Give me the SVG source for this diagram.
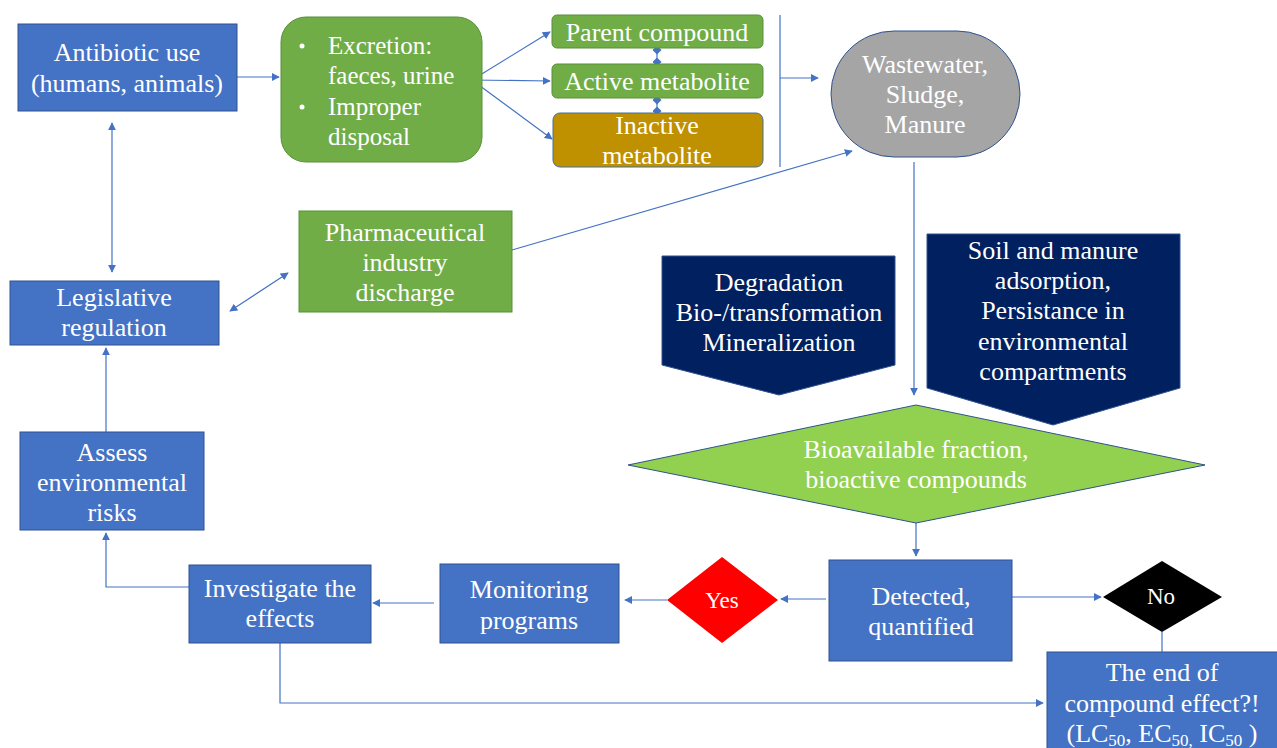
<svg xmlns="http://www.w3.org/2000/svg" width="1277" height="748" viewBox="0 0 1277 748">
<defs>
<style>
.t{font-family:"Liberation Serif","Times New Roman",serif;font-size:26px;fill:#ffffff;text-anchor:middle}
.tl{font-family:"Liberation Serif","Times New Roman",serif;font-size:25px;fill:#ffffff}
.ts{font-family:"Liberation Serif","Times New Roman",serif;font-size:23px;fill:#ffffff;text-anchor:middle}
.blue{fill:#4472C4;stroke:#2F528F;stroke-width:1}
.green{fill:#70AD47;stroke:#5B8F3A;stroke-width:1}
.navy{fill:#002060;stroke:#2F528F;stroke-width:1}
.c{fill:none;stroke:#4472C4;stroke-width:1.2}
</style>
<marker id="ah" viewBox="0 0 10 10" refX="9" refY="5" markerWidth="8" markerHeight="8" orient="auto-start-reverse" markerUnits="userSpaceOnUse">
<path d="M0,0 L10,5 L0,10 z" fill="#4472C4"/>
</marker>
<marker id="dm" viewBox="0 0 10 10" refX="5" refY="5" markerWidth="9" markerHeight="9" orient="auto" markerUnits="userSpaceOnUse">
<path d="M0,5 L5,0 L10,5 L5,10 z" fill="#4472C4"/>
</marker>
</defs>

<g id="connectors">
<path class="c" d="M237,77 H279" marker-end="url(#ah)"/>
<path class="c" d="M472,80 L550,32" marker-end="url(#ah)"/>
<path class="c" d="M472,80 L550,81" marker-end="url(#ah)"/>
<path class="c" d="M472,80 L552,139" marker-end="url(#ah)"/>
<path class="c" d="M657,50 V62" marker-start="url(#dm)" marker-end="url(#dm)"/>
<path class="c" d="M657,100 V111" marker-start="url(#dm)" marker-end="url(#dm)"/>
<path class="c" d="M780,15 V167"/>
<path class="c" d="M780,78 H818" marker-end="url(#ah)"/>
<path class="c" d="M512,250 L852,151" marker-end="url(#ah)"/>
<path class="c" d="M914,162 V395" marker-end="url(#ah)"/>
<path class="c" d="M916,523 V556" marker-end="url(#ah)"/>
<path class="c" d="M826,599 H781" marker-end="url(#ah)"/>
<path class="c" d="M667,600 H625" marker-end="url(#ah)"/>
<path class="c" d="M434,603 H373" marker-end="url(#ah)"/>
<path class="c" d="M189,587 H106 V533" marker-end="url(#ah)"/>
<path class="c" d="M106,432 V348" marker-end="url(#ah)"/>
<path class="c" d="M112,123 V272" marker-start="url(#ah)" marker-end="url(#ah)"/>
<path class="c" d="M230,311 L288,273" marker-start="url(#ah)" marker-end="url(#ah)"/>
<path class="c" d="M1012,597 H1101" marker-end="url(#ah)"/>
<path class="c" d="M1162,632 V652"/>
<path class="c" d="M280,643 V703 H1043" marker-end="url(#ah)"/>
</g>

<g id="antibiotic">
<rect class="blue" x="18" y="24" width="219" height="87"/>
<text class="t" x="127" y="61">Antibiotic use</text>
<text class="t" x="127" y="92">(humans, animals)</text>
</g>

<g id="excretion">
<rect class="green" x="281" y="17" width="201" height="145" rx="25"/>
<circle cx="302" cy="46" r="2.5" fill="#fff"/>
<circle cx="302" cy="107" r="2.5" fill="#fff"/>
<text class="tl" x="328" y="54">Excretion:</text>
<text class="tl" x="328" y="84">faeces, urine</text>
<text class="tl" x="328" y="115">Improper</text>
<text class="tl" x="328" y="145">disposal</text>
</g>

<g id="parent">
<rect class="green" x="552" y="15" width="211" height="33" rx="5" stroke="#41719C"/>
<text class="t" x="657" y="41">Parent compound</text>
</g>

<g id="active">
<rect class="green" x="552" y="64" width="211" height="34" rx="5" stroke="#41719C"/>
<text class="t" x="657" y="90">Active metabolite</text>
</g>

<g id="inactive">
<rect x="553" y="113" width="210" height="54" rx="7" fill="#BF9000" stroke="#41719C"/>
<text class="t" x="657" y="134">Inactive</text>
<text class="t" x="657" y="164">metabolite</text>
</g>

<g id="wastewater">
<rect x="831" y="31" width="189" height="126" rx="63" fill="#A5A5A5" stroke="#2F528F"/>
<text class="t" x="925" y="73">Wastewater,</text>
<text class="t" x="925" y="103">Sludge,</text>
<text class="t" x="925" y="133">Manure</text>
</g>

<g id="pharma">
<rect class="green" x="299" y="211" width="213" height="101"/>
<text class="t" x="405" y="241">Pharmaceutical</text>
<text class="t" x="405" y="271">industry</text>
<text class="t" x="405" y="301">discharge</text>
</g>

<g id="legislative">
<rect class="blue" x="10" y="281" width="209" height="64"/>
<text class="t" x="114" y="306">Legislative</text>
<text class="t" x="114" y="336">regulation</text>
</g>

<g id="degradation">
<path class="navy" d="M662,256 H895 V365 L779,395 L662,365 Z"/>
<text class="t" x="779" y="291">Degradation</text>
<text class="t" x="779" y="321">Bio-/transformation</text>
<text class="t" x="779" y="351">Mineralization</text>
</g>

<g id="soil">
<path class="navy" d="M927,234 H1180 V388 L1053,425 L927,388 Z"/>
<text class="t" x="1053" y="259">Soil and manure</text>
<text class="t" x="1053" y="289">adsorption,</text>
<text class="t" x="1053" y="319">Persistance in</text>
<text class="t" x="1053" y="350">environmental</text>
<text class="t" x="1053" y="380">compartments</text>
</g>

<g id="bioavailable">
<path d="M628,465 L916,405 L1205,465 L916,523 Z" fill="#92D050" stroke="#2F528F"/>
<text class="t" x="916" y="458">Bioavailable fraction,</text>
<text class="t" x="916" y="488">bioactive compounds</text>
</g>

<g id="detected">
<rect class="blue" x="829" y="560" width="183" height="101"/>
<text class="t" x="921" y="605">Detected,</text>
<text class="t" x="921" y="635">quantified</text>
</g>

<g id="yes">
<path d="M667,600 L722,557 L778,600 L722,643 Z" fill="#FF0000"/>
<text class="ts" x="722" y="608">Yes</text>
</g>

<g id="no">
<path d="M1103,597 L1162,561 L1222,597 L1162,632 Z" fill="#000000"/>
<text class="ts" x="1161" y="604">No</text>
</g>

<g id="monitoring">
<rect class="blue" x="440" y="564" width="179" height="79"/>
<text class="t" x="529" y="598">Monitoring</text>
<text class="t" x="529" y="629">programs</text>
</g>

<g id="investigate">
<rect class="blue" x="189" y="565" width="182" height="78"/>
<text class="t" x="280" y="597">Investigate the</text>
<text class="t" x="280" y="627">effects</text>
</g>

<g id="assess">
<rect class="blue" x="20" y="432" width="184" height="98"/>
<text class="t" x="112" y="461">Assess</text>
<text class="t" x="112" y="491">environmental</text>
<text class="t" x="112" y="521">risks</text>
</g>

<g id="end">
<rect class="blue" x="1047" y="652" width="235" height="100"/>
<text class="t" x="1162" y="681">The end of</text>
<text class="t" x="1162" y="712">compound effect?!</text>
<text class="t" x="1162" y="742">(LC<tspan font-size="17" dy="4">50</tspan><tspan dy="-4">, EC</tspan><tspan font-size="17" dy="4">50,</tspan><tspan dy="-4"> IC</tspan><tspan font-size="17" dy="4">50</tspan><tspan dy="-4"> )</tspan></text>
</g>
</svg>
